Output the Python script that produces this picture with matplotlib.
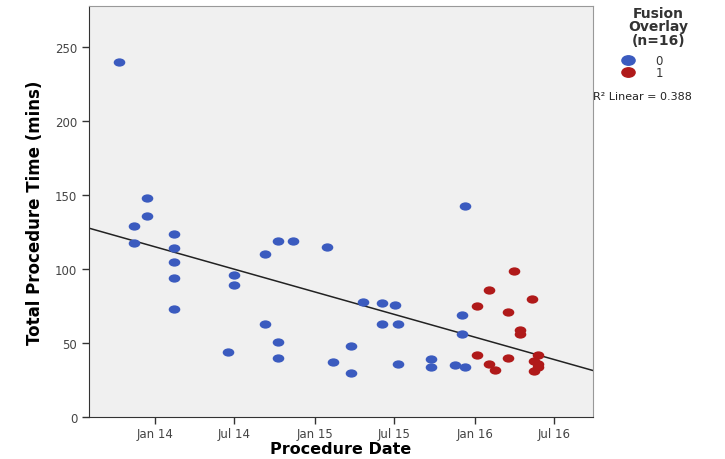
import numpy as np
import matplotlib
matplotlib.use("Agg")
import matplotlib.pyplot as plt
import matplotlib.dates as mdates
from matplotlib.path import Path
from matplotlib.transforms import Affine2D

# fusion overlay = 0
dates_0 = ["2013-10-12", "2013-12-14", "2013-12-14", "2013-11-15", "2013-11-15",
           "2014-02-13", "2014-02-13", "2014-02-13", "2014-02-13", "2014-02-13",
           "2014-10-10", "2014-11-12", "2014-09-10", "2014-09-10", "2015-01-29",
           "2014-07-01", "2014-07-01", "2014-10-09", "2014-10-09", "2014-06-18",
           "2015-02-11", "2015-12-09", "2015-04-22", "2015-06-03", "2015-06-03",
           "2015-07-02", "2015-07-09", "2015-07-09", "2015-03-25", "2015-03-25",
           "2015-09-24", "2015-09-24", "2015-11-18", "2015-12-09", "2015-12-02",
           "2015-12-02"]
times_0 = [240, 148, 136, 129, 118,
           124, 114, 105, 94, 73,
           119, 119, 110, 63, 115,
           96, 89, 51, 40, 44,
           37, 143, 78, 77, 63,
           76, 63, 36, 48, 30,
           39, 34, 35, 34, 69,
           56]

# fusion overlay = 1
dates_1 = ["2016-01-06", "2016-01-06", "2016-02-03", "2016-02-03", "2016-03-30",
           "2016-05-11", "2016-03-17", "2016-03-17", "2016-04-13", "2016-04-13",
           "2016-02-16", "2016-05-25", "2016-05-25", "2016-05-16", "2016-05-16",
           "2016-05-25"]
times_1 = [75, 42, 86, 36, 99,
           80, 71, 40, 59, 56,
           32, 42, 34, 38, 31,
           36]

x0 = mdates.date2num(np.array(dates_0, dtype="datetime64[D]"))
x1 = mdates.date2num(np.array(dates_1, dtype="datetime64[D]"))

blue = "#3b5bbf"
red = "#b01a1a"

ellipse = Path.unit_circle().transformed(Affine2D().scale(1.4, 1.0))

fig = plt.figure(figsize=(7.25, 4.6), dpi=100)
ax = fig.add_axes([0.1228, 0.0913, 0.6952, 0.8937])
ax.set_facecolor("#f0f0f0")

ax.scatter(x0, times_0, marker=ellipse, s=70, color=blue, linewidths=0, zorder=3)
ax.scatter(x1, times_1, marker=ellipse, s=70, color=red, linewidths=0, zorder=3)

xmin = mdates.date2num(np.datetime64("2013-08-04"))
xmax = mdates.date2num(np.datetime64("2016-09-27"))

# overall linear fit
allx = np.concatenate([x0, x1])
ally = np.concatenate([times_0, times_1])
slope, icept = np.polyfit(allx, ally, 1)
xs = np.array([xmin, xmax])
ax.plot(xs, slope * xs + icept, color="#222222", lw=1.1, zorder=2)

ax.set_xlim(xmin, xmax)
ax.set_ylim(0, 278)
ax.set_yticks([0, 50, 100, 150, 200, 250])
ax.xaxis.set_major_locator(mdates.MonthLocator(bymonth=[1, 7]))
ax.xaxis.set_major_formatter(mdates.DateFormatter("%b %y"))

for s in ["top", "right"]:
    ax.spines[s].set_color("#999999")
for s in ["left", "bottom"]:
    ax.spines[s].set_color("#333333")
ax.tick_params(direction="out", length=5, width=1, colors="#333333",
               labelsize=8.5, labelcolor="#444444")
ax.tick_params(axis="x", pad=2)

ax.set_xlabel("Procedure Date", fontsize=11.5, fontweight="bold", labelpad=1)
ax.set_ylabel("Total Procedure Time (mins)", fontsize=12, fontweight="bold", labelpad=8)

# legend area
fig.text(0.908, 0.985, "Fusion\nOverlay\n(n=16)", ha="center", va="top",
         fontsize=10, fontweight="bold", color="#333333", linespacing=0.95)
fig.text(0.904, 0.867, "0", ha="left", va="center", fontsize=8.5, color="#333333")
fig.text(0.904, 0.841, "1", ha="left", va="center", fontsize=8.5, color="#333333")
fig.add_artist(plt.Line2D([0.866], [0.867], marker=ellipse, markersize=9.5,
                          color=blue, transform=fig.transFigure))
fig.add_artist(plt.Line2D([0.866], [0.841], marker=ellipse, markersize=9.5,
                          color=red, transform=fig.transFigure))
fig.text(0.818, 0.789, "R\u00b2 Linear = 0.388", ha="left", va="center",
         fontsize=8, color="#222222")

fig.savefig("out.png", dpi=100)
